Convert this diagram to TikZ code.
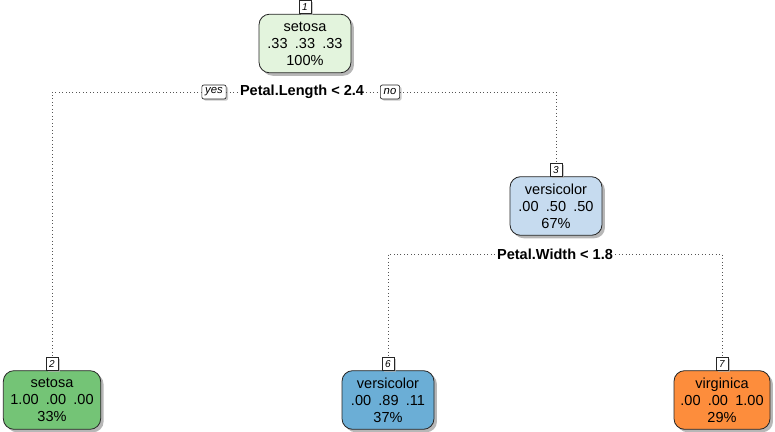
\documentclass[tikz,border=0pt]{standalone}
\usepackage{fontspec}
\setmainfont{Liberation Sans}
\usetikzlibrary{shadows}
\definecolor{cRoot}{HTML}{E3F4DD}
\definecolor{cSet}{HTML}{74C476}
\definecolor{cVer}{HTML}{C6DBEF}
\definecolor{cVerD}{HTML}{6BAED6}
\definecolor{cVir}{HTML}{FD8D3C}
\definecolor{cLine}{HTML}{555555}
\newcommand{\gp}{\hspace{0.5em}}
\begin{document}
\begin{tikzpicture}[x=0.75pt,y=-0.75pt,
  treenode/.style={draw=black!85, line width=0.6pt, rounded corners=8pt,
    minimum height=44pt, inner sep=0pt, align=center,
    font=\fontsize{10.9}{12.8}\selectfont,
    drop shadow={shadow xshift=2.2pt, shadow yshift=-2.2pt, fill=black!40, opacity=0.7}},
  numbox/.style={draw=black!85, line width=0.5pt, fill=white, inner sep=0pt,
    minimum width=9pt, minimum height=9.5pt,
    font=\fontsize{7.5}{8}\selectfont\itshape, anchor=south,
    drop shadow={shadow xshift=1.6pt, shadow yshift=-1.2pt, fill=black!30, opacity=0.7}},
  yesno/.style={draw=black!85, line width=0.5pt, fill=white, inner xsep=2.5pt, inner ysep=1.5pt,
    rounded corners=1.5pt, minimum height=10.5pt,
    font=\fontsize{8.5}{9}\selectfont\itshape,
    drop shadow={shadow xshift=1.4pt, shadow yshift=-1.2pt, fill=black!30, opacity=0.7}},
  splittext/.style={fill=white, inner xsep=1.5pt, inner ysep=1pt,
    font=\fontsize{10.9}{12.8}\selectfont\bfseries},
  dotline/.style={draw=cLine, line width=0.6pt, dotted}
]
\useasboundingbox (0,0) rectangle (775,432);

% nodes
\node[treenode, fill=cRoot, minimum width=69pt] (n1) at (305,43.5) {setosa\\.33\gp.33\gp.33\\100\%};
\node[numbox] (l1) at (n1.north) {1};

\node[treenode, fill=cVer, minimum width=69pt] (n3) at (556,206) {versicolor\\.00\gp.50\gp.50\\67\%};
\node[numbox] (l3) at (n3.north) {3};

\node[treenode, fill=cSet, minimum width=73pt] (n2) at (52,400) {setosa\\1.00\gp.00\gp.00\\33\%};
\node[numbox] (l2) at (n2.north) {2};

\node[treenode, fill=cVerD, minimum width=69pt] (n6) at (388,400) {versicolor\\.00\gp.89\gp.11\\37\%};
\node[numbox] (l6) at (n6.north) {6};

\node[treenode, fill=cVir, minimum width=72pt] (n7) at (722,400) {virginica\\.00\gp.00\gp1.00\\29\%};
\node[numbox] (l7) at (n7.north) {7};

% split 1
\node[splittext] (s1) at (302,92) {Petal.Length < 2.4};
\node[yesno] (yes) at (214,92) {yes};
\node[yesno] (no) at (390,92) {no};
\draw[dotline] (yes.west) -| (l2.north);
\draw[dotline] (yes.east) -- (s1.west);
\draw[dotline] (s1.east) -- (no.west);
\draw[dotline] (no.east) -| (l3.north);

% split 2
\node[splittext] (s2) at (555,254) {Petal.Width < 1.8};
\draw[dotline] (s2.west) -| (l6.north);
\draw[dotline] (s2.east) -| (l7.north);
\end{tikzpicture}
\end{document}
